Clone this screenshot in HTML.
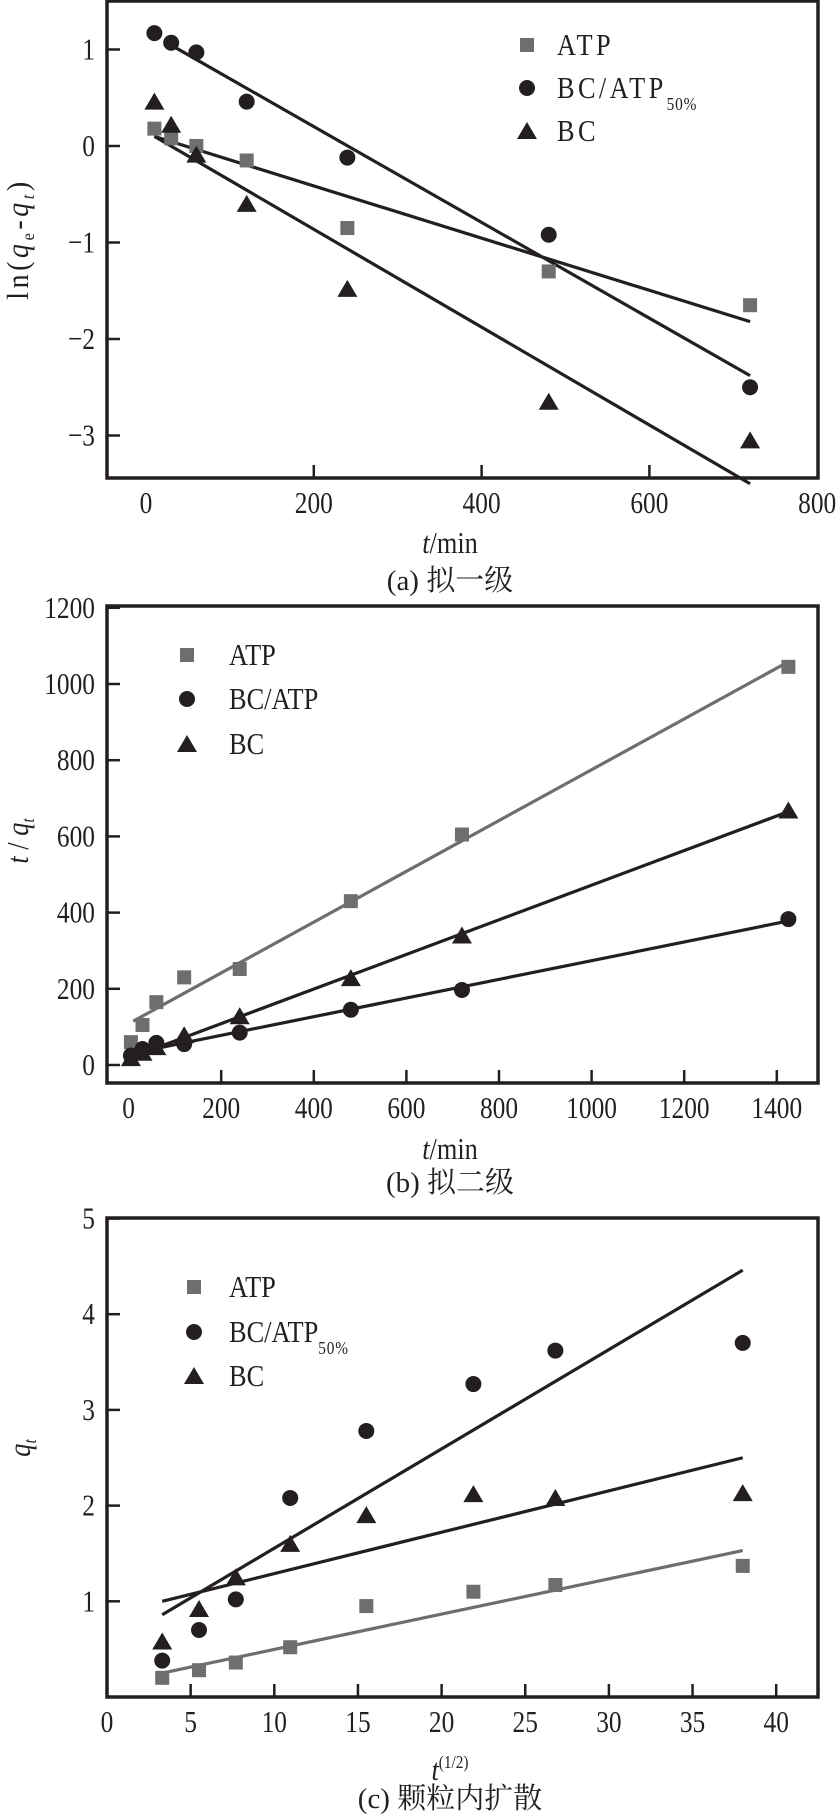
<!DOCTYPE html>
<html><head><meta charset="utf-8"><style>
body{margin:0;background:#fff;width:840px;height:1818px;overflow:hidden}
svg{display:block}
text{font-family:"Liberation Serif","Noto Serif CJK SC",serif;fill:#231f20}
</style></head><body>
<svg id="fig" width="840" height="1818" viewBox="0 0 840 1818"></svg>
<script>
// ---- chart (a) data ----
const aX = [10,30,60,120,240,480,720];
const aATP = [0.18,0.08,0.0,-0.15,-0.85,-1.3,-1.65];
const aBCATP = [1.17,1.07,0.97,0.46,-0.12,-0.92,-2.5];
const aBC = [0.46,0.22,-0.09,-0.6,-1.48,-2.65,-3.05];
const aFitX = [[10,720],[35,720],[10,720]];
const aFitY = [[0.1,-1.82],[1.02,-2.38],[0.1,-3.5]];
const aXTicks = [0,200,400,600,800];
const aYTicks = [1,0,-1,-2,-3];
// ---- chart (b) data ----
const bX = [5,30,60,120,240,480,720,1425];
const bATP = [60,105,165,230,252,430,605,1045];
const bBCATP = [25,42,58,55,85,145,197,383];
const bBC = [18,32,47,78,128,228,340,668];
const bFitX = [[10,1420],[5,1425],[5,1425]];
const bFitY = [[115,1055],[30,378],[20,665]];
const bXTicks = [0,200,400,600,800,1000,1200,1400];
const bYTicks = [0,200,400,600,800,1000,1200];
// ---- chart (c) data ----
const cX = [3.3,5.5,7.7,10.95,15.5,21.9,26.8,38];
const cATP = [0.2,0.28,0.36,0.52,0.95,1.1,1.17,1.37];
const cBCATP = [0.38,0.7,1.02,2.08,2.78,3.27,3.62,3.7];
const cBC = [0.58,0.92,1.25,1.6,1.9,2.12,2.08,2.13];
const cFitX = [[3.3,38],[3.3,38],[3.3,38]];
const cFitY = [[0.25,1.53],[0.86,4.46],[1.0,2.5]];
const cXTicks = [0,5,10,15,20,25,30,35,40];
const cYTicks = [1,2,3,4,5];

const NS='http://www.w3.org/2000/svg';
const svg=document.getElementById('fig');
function mk(tag,attrs,parent){const e=document.createElementNS(NS,tag);for(const k in attrs)e.setAttribute(k,attrs[k]);(parent||svg).appendChild(e);return e;}
function txt(str,x,y,size,anchor,parent,sx){const t=mk('text',{x:0,y:0,'font-size':size,'text-anchor':anchor||'middle',transform:`translate(${x},${y}) scale(${sx||0.82},1)`},parent);t.textContent=str;return t;}
function marker(kind,x,y,g){
  let m;
  if(kind==='sq'){m=mk('rect',{x:x-7,y:y-7,width:14,height:14,fill:'#6d6e70'},g);}
  else if(kind==='ci'){m=mk('circle',{cx:x,cy:y,r:8,fill:'#231f20'},g);}
  else {m=mk('polygon',{points:`${x},${y-9} ${x+10},${y+8} ${x-10},${y+8}`,fill:'#231f20'},g);}
  return m;
}

function chart(cfg){
  const g=mk('g',{});
  
  
  const sx=v=>cfg.x0+(v-cfg.xmin)*cfg.kx;
  const sy=v=>cfg.y0-(v-cfg.ymin)*cfg.ky;
  cfg.xTicks.forEach(v=>{
    const px=sx(v);
    if(cfg.xTickDraw(v)){const t=mk('line',{x1:px,x2:px,y1:cfg.B,y2:cfg.B-13,stroke:'#231f20','stroke-width':2.5},g);
    }
    const l=txt(String(v),px,cfg.B+35,31,'middle',g);
    
  });
  cfg.yTicks.forEach(v=>{
    const py=sy(v);
    const t=mk('line',{x1:cfg.L,x2:cfg.L+13,y1:py,y2:py,stroke:'#231f20','stroke-width':2.5},g);
    
    const l=txt(String(v).replace('-','\u2212'),cfg.L-12,py+10,31,'end',g);
    
  });
  const fitColors=cfg.fitColors;
  cfg.fitX.forEach((fx,i)=>{
    const ln=mk('line',{x1:sx(fx[0]),y1:sy(cfg.fitY[i][0]),x2:sx(fx[1]),y2:sy(cfg.fitY[i][1]),stroke:fitColors[i],'stroke-width':3.2},g);
    
    
  });
  const kinds=['sq','ci','tr'];
  cfg.data.forEach((arr,i)=>{
    arr.forEach((v,j)=>{
      const m=marker(kinds[i],sx(cfg.xs[j]),sy(v),g);
      
      
    });
  });
  const f=mk('rect',{x:cfg.L,y:cfg.T,width:cfg.R-cfg.L,height:cfg.B-cfg.T,fill:'none',stroke:'#231f20','stroke-width':3.5},g);
  
  cfg.legend.forEach((lab,i)=>{
    const y=cfg.legY[i];
    const m=marker(kinds[i],cfg.legMX,y-10,g);
    
    const t=mk('text',{x:0,y:0,'font-size':31,'letter-spacing':cfg.legSpacing,transform:`translate(${cfg.legTX},${y}) scale(0.85,1)`},g);
    
    t.textContent=lab;
    if(cfg.sub&&i===1){const s=mk('tspan',{'font-size':18,dy:12,'letter-spacing':1},t);s.textContent='50%';}
  });
  return {g,sx,sy};
}

chart({name:'chart-a-pseudo-first-order',L:107,R:818,T:1,B:478,x0:146,xmin:0,kx:0.839,y0:146,ymin:0,ky:96.5,
  xTicks:aXTicks,yTicks:aYTicks,xTickDraw:v=>v>0&&v<800,fitX:aFitX,fitY:aFitY,fitColors:['#231f20','#231f20','#231f20'],
  series:['atp','bc-atp','bc'],data:[aATP,aBCATP,aBC],xs:aX,legend:['ATP','BC/ATP','BC'],legY:[55,98,141],legMX:527,legTX:557,legSpacing:4,sub:true});
chart({name:'chart-b-pseudo-second-order',L:107,R:818,T:606,B:1083,x0:128.6,xmin:0,kx:0.463,y0:1065,ymin:0,ky:0.381,
  xTicks:bXTicks,yTicks:bYTicks,xTickDraw:v=>v>0,fitX:bFitX,fitY:bFitY,fitColors:['#6d6e70','#231f20','#231f20'],
  series:['atp','bc-atp','bc'],data:[bATP,bBCATP,bBC],xs:bX,legend:['ATP','BC/ATP','BC'],legY:[665,709,754],legMX:187,legTX:229,legSpacing:0,sub:false});
chart({name:'chart-c-intraparticle-diffusion',L:107,R:818,T:1218,B:1697,x0:107,xmin:0,kx:16.73,y0:1697,ymin:0,ky:95.7,
  xTicks:cXTicks,yTicks:cYTicks,xTickDraw:v=>v>0,fitX:cFitX,fitY:cFitY,fitColors:['#6d6e70','#231f20','#231f20'],
  series:['atp','bc-atp','bc'],data:[cATP,cBCATP,cBC],xs:cX,legend:['ATP','BC/ATP','BC'],legY:[1297,1342,1386],legMX:194,legTX:229,legSpacing:0,sub:true});
</script>
<svg width="840" height="1818" style="position:absolute;left:0;top:0">
 <g font-family="Liberation Serif, Noto Serif CJK SC, serif" fill="#231f20">
  <text font-size="31" letter-spacing="4" text-anchor="middle" transform="translate(28,239) rotate(-90) scale(0.9,1)">ln(<tspan font-style="italic">q</tspan><tspan font-size="18" dy="6">e</tspan><tspan dy="-6">-</tspan><tspan font-style="italic">q</tspan><tspan font-size="18" font-style="italic" dy="6">t</tspan><tspan dy="-6">)</tspan></text>
  <text font-size="31" text-anchor="middle" transform="translate(450,553) scale(0.85,1)"><tspan font-style="italic">t</tspan>/min</text>
  <text font-size="29" text-anchor="middle" x="450" y="590">(a) 拟一级</text>

  <text font-size="31" text-anchor="middle" transform="translate(28,841) rotate(-90) scale(0.85,1)"><tspan font-style="italic">t</tspan> / <tspan font-style="italic">q</tspan><tspan font-size="18" font-style="italic" dy="6">t</tspan></text>
  <text font-size="31" text-anchor="middle" transform="translate(450,1159) scale(0.85,1)"><tspan font-style="italic">t</tspan>/min</text>
  <text font-size="29" text-anchor="middle" x="450" y="1192">(b) 拟二级</text>

  <text font-size="31" text-anchor="middle" transform="translate(30,1448) rotate(-90) scale(0.85,1)"><tspan font-style="italic">q</tspan><tspan font-size="18" font-style="italic" dy="6">t</tspan></text>
  <text font-size="31" text-anchor="middle" transform="translate(450,1780) scale(0.85,1)"><tspan font-style="italic">t</tspan><tspan font-size="18" dy="-12">(1/2)</tspan></text>
  <text font-size="29" text-anchor="middle" x="450" y="1808">(c) 颗粒内扩散</text>
 </g>
</svg>
</body></html>
